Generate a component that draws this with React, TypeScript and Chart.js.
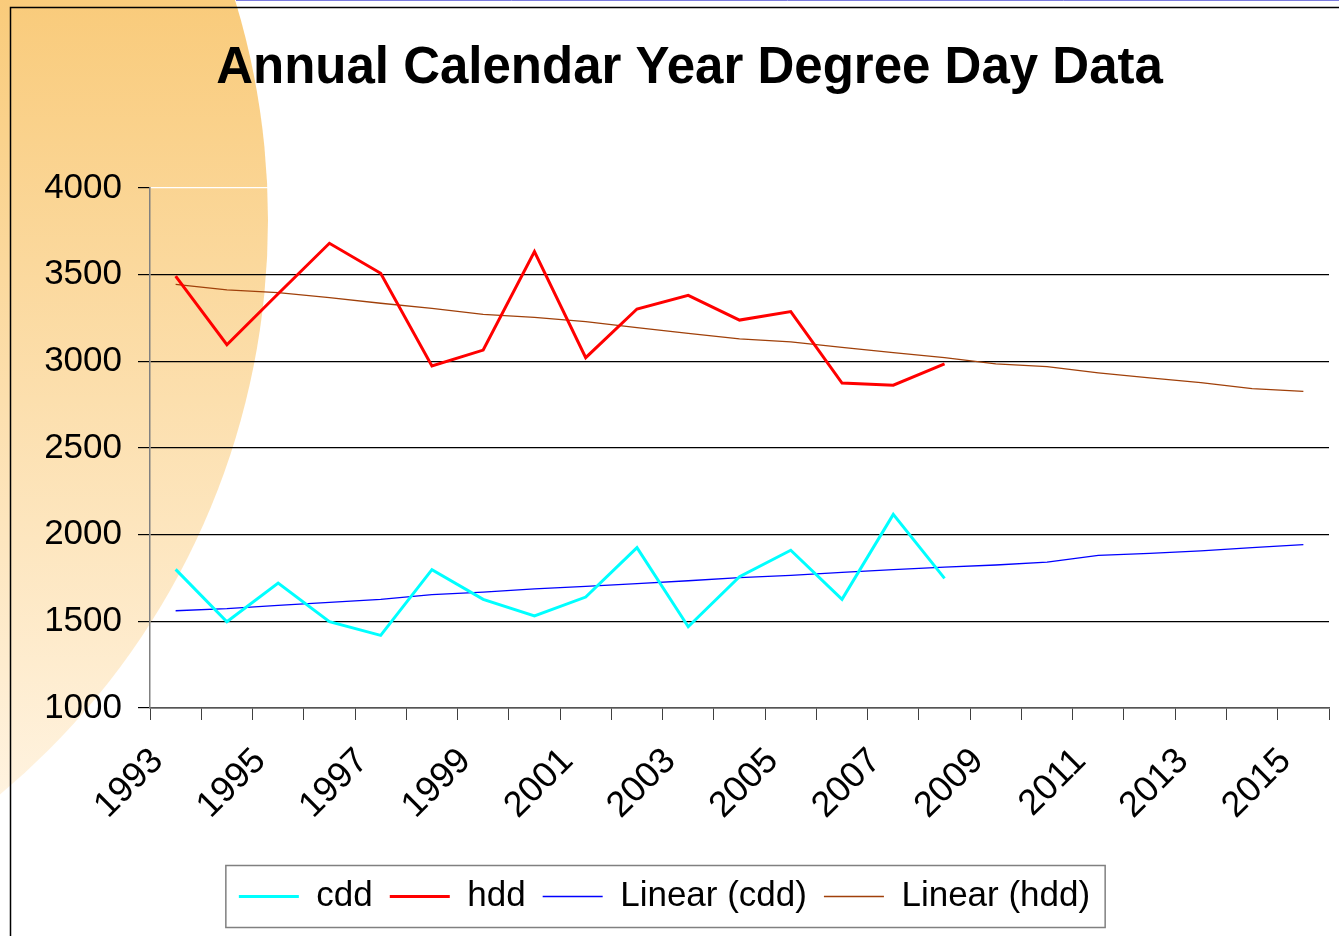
import React, { useEffect, useRef } from 'react';
import { Chart, registerables } from 'chart.js';

Chart.register(...registerables);

const years = ['1993','1994','1995','1996','1997','1998','1999','2000','2001','2002','2003','2004','2005','2006','2007','2008','2009','2010','2011','2012','2013','2014','2015'];
const shownYears = ['1993','1995','1997','1999','2001','2003','2005','2007','2009','2011','2013','2015'];

const cdd = [1800, 1498, 1721, 1498, 1419, 1798, 1627, 1531, 1640, 1925, 1469, 1758, 1910, 1627, 2117, 1748, null, null, null, null, null, null, null];
const hdd = [3492, 3096, 3390, 3681, 3508, 2973, 3065, 3633, 3021, 3302, 3381, 3238, 3287, 2875, 2862, 2985, null, null, null, null, null, null, null];
const linearCdd = [1561, 1573, 1592, 1609, 1627, 1654, 1669, 1687, 1702, 1717, 1734, 1752, 1765, 1783, 1798, 1813, 1825, 1842, 1881, 1892, 1907, 1925, 1942];
const linearHdd = [3444, 3412, 3396, 3367, 3335, 3306, 3271, 3254, 3229, 3194, 3161, 3129, 3112, 3081, 3050, 3021, 2985, 2969, 2934, 2905, 2877, 2842, 2827];

const yMin = 1000;
const yMax = 4000;
const yStep = 500;

const FONT = '"Liberation Sans", Arial, sans-serif';

const decorPlugin = {
  id: 'decor',
  beforeDraw(chart: any) {
    const ctx = chart.ctx;
    ctx.save();
    const g = ctx.createLinearGradient(0, 0, 0, 800);
    g.addColorStop(0, '#F9CB7B');
    g.addColorStop(1, '#FFF3E0');
    ctx.fillStyle = g;
    ctx.beginPath();
    ctx.arc(-482, 220, 750, 0, Math.PI * 2);
    ctx.fill();
    ctx.strokeStyle = '#000';
    ctx.lineWidth = 1.5;
    ctx.beginPath();
    ctx.moveTo(10.5, 936);
    ctx.lineTo(10.5, 7.5);
    ctx.lineTo(1339, 7.5);
    ctx.stroke();
    ctx.strokeStyle = '#7B7BE0';
    ctx.lineWidth = 1;
    ctx.beginPath();
    ctx.moveTo(236, 0.5);
    ctx.lineTo(1339, 0.5);
    ctx.stroke();
    ctx.restore();
  },
  afterLayout(chart: any) {
    if (chart.titleBlock) {
      chart.titleBlock.left = 50;
    }
  },
  afterDraw(chart: any) {
    const lg = chart.legend;
    if (!lg || !lg.legendHitBoxes || !lg.legendHitBoxes.length) return;
    const hb = lg.legendHitBoxes;
    const first = hb[0];
    const last = hb[hb.length - 1];
    const cy = first.top + first.height / 2;
    const left = first.left - 13;
    const right = last.left + last.width + 15;
    const ctx = chart.ctx;
    ctx.save();
    ctx.strokeStyle = '#808080';
    ctx.lineWidth = 1.5;
    ctx.strokeRect(left, cy - 31, right - left, 62);
    ctx.restore();
  },
};

export default function App() {
  const ref = useRef<HTMLCanvasElement | null>(null);

  useEffect(() => {
    if (!ref.current) return;
    const chart = new Chart(ref.current, {
      type: 'line',
      data: {
        labels: years,
        datasets: [
          { label: 'cdd', data: cdd, borderColor: '#00FFFF', backgroundColor: '#00FFFF', borderWidth: 3, pointRadius: 0, tension: 0 },
          { label: 'hdd', data: hdd, borderColor: '#FF0000', backgroundColor: '#FF0000', borderWidth: 3, pointRadius: 0, tension: 0 },
          { label: 'Linear (cdd)', data: linearCdd, borderColor: '#0000FF', backgroundColor: '#0000FF', borderWidth: 1.3, pointRadius: 0, tension: 0 },
          { label: 'Linear (hdd)', data: linearHdd, borderColor: '#A0400A', backgroundColor: '#A0400A', borderWidth: 1.3, pointRadius: 0, tension: 0 },
        ],
      },
      options: {
        responsive: false,
        animation: false,
        layout: { padding: { left: 0, right: 10, top: 0, bottom: 12 } },
        plugins: {
          title: {
            display: true,
            text: 'Annual Calendar Year Degree Day Data',
            color: '#000',
            font: { family: FONT, size: 51, weight: 'bold' },
            padding: { top: 38, bottom: 88.8 },
          },
          legend: {
            position: 'bottom',
            labels: {
              usePointStyle: true,
              pointStyle: 'line',
              pointStyleWidth: 60,
              color: '#000',
              font: { family: FONT, size: 35 },
              padding: 17,
            },
          },
          tooltip: { enabled: false },
        },
        scales: {
          x: {
            type: 'category',
            offset: true,
            afterFit: (scale: any) => {
              scale.height = 154;
              scale.paddingRight = 0;
              scale.paddingLeft = 0;
            },
            grid: { display: true, drawOnChartArea: false, offset: true, tickLength: 12, tickColor: '#404040' },
            border: { color: '#555555', width: 1.5 },
            ticks: {
              autoSkip: false,
              minRotation: 45,
              maxRotation: 45,
              padding: 20,
              labelOffset: -18,
              color: '#000',
              font: { family: FONT, size: 36 },
              callback: (_v: any, i: number) => (shownYears.includes(years[i]) ? years[i] : ''),
            },
          },
          y: {
            min: yMin,
            max: yMax,
            afterFit: (scale: any) => { scale.width = 150; },
            grid: {
              color: (c: any) => (c.tick && c.tick.value === yMax ? '#FFFFFF' : '#000000'),
              lineWidth: 1.2,
              tickLength: 12,
              tickColor: '#000000',
            },
            border: { color: '#808080', width: 1.5 },
            ticks: {
              stepSize: yStep,
              padding: 16,
              color: '#000',
              font: { family: FONT, size: 35 },
              callback: (v: any) => String(v),
            },
          },
        },
      },
      plugins: [decorPlugin],
    } as any);
    return () => chart.destroy();
  }, []);

  return (
    <div style={{ position: 'absolute', left: 0, top: 0, width: 1339, height: 936 }}>
      <canvas ref={ref} width={1339} height={936} style={{ display: 'block' }} />
    </div>
  );
}
